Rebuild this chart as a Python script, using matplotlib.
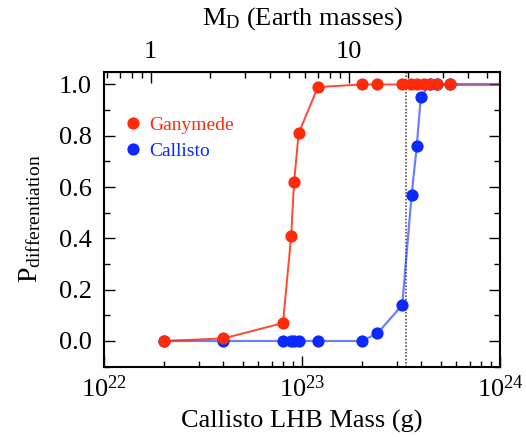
import matplotlib
matplotlib.use("Agg")
import matplotlib.pyplot as plt
from matplotlib.lines import Line2D
from matplotlib.ticker import LogLocator, MultipleLocator, NullFormatter, FixedLocator, FixedFormatter

plt.rcParams['font.family'] = ['Liberation Serif', 'DejaVu Serif']
plt.rcParams['mathtext.fontset'] = 'custom'
plt.rcParams['mathtext.rm'] = 'Liberation Serif'
plt.rcParams['mathtext.it'] = 'Liberation Serif:italic'

# Data (Callisto LHB mass in g, probability of differentiation)
gan_mass = [2.0e22, 4.0e22, 8.0e22, 8.8e22, 9.1e22, 9.6e22, 1.2e23, 2.0e23, 2.4e23,
            3.2e23, 3.55e23, 3.8e23, 4.1e23, 4.4e23, 4.8e23, 5.55e23]
gan_p = [0.0, 0.01, 0.07, 0.41, 0.62, 0.81, 0.99, 1.0, 1.0,
         1.0, 1.0, 1.0, 1.0, 1.0, 1.0, 1.0]
cal_mass = [2.0e22, 4.0e22, 8.0e22, 8.8e22, 9.1e22, 9.6e22, 1.2e23, 2.0e23, 2.4e23,
            3.2e23, 3.57e23, 3.79e23, 3.97e23, 4.4e23, 4.8e23, 5.55e23]
cal_p = [0.0, 0.0, 0.0, 0.0, 0.0, 0.0, 0.0, 0.0, 0.03,
         0.14, 0.57, 0.76, 0.95, 1.0, 1.0, 1.0]
tail_mass = [5.55e23, 1.0e24]
tail_p = [1.0, 1.0]
threshold_mass = 3.35e23
earth_conv = 1.72e22  # g of Callisto LHB mass per Earth mass of disk

red = '#ff2a0a'
blue = '#0a2aff'
FS = 19

fig = plt.figure(figsize=(5.26, 4.37), dpi=100)
ax = fig.add_axes([0.198, 0.161, 0.753, 0.675])

ax.axvline(threshold_mass, color='#555555', linestyle=(0, (1, 1)), linewidth=1.2, zorder=1)

ax.plot(tail_mass, tail_p, color=red, lw=2, alpha=0.6, zorder=2)
ax.plot(tail_mass, tail_p, color=blue, lw=2, alpha=0.35, zorder=3)
ax.plot(cal_mass, cal_p, color=blue, lw=1.6, alpha=0.6, zorder=2)
ax.plot(cal_mass, cal_p, 'o', color=blue, ms=8.8, mec='none', zorder=4)
ax.plot(gan_mass, gan_p, color=red, lw=1.4, alpha=0.85, zorder=5)
ax.plot(gan_mass, gan_p, 'o', color=red, ms=8.8, mec='none', zorder=6)

ax.set_xscale('log')
ax.set_xlim(1e22, 1e24)
ax.set_ylim(-0.1, 1.05)
ax.yaxis.set_minor_locator(MultipleLocator(0.1))
ax.set_yticks([0.0, 0.2, 0.4, 0.6, 0.8, 1.0])
ax.set_yticklabels(['0.0', '0.2', '0.4', '0.6', '0.8', '1.0'])
ax.xaxis.set_major_locator(FixedLocator([1e22, 1e23, 1e24]))
ax.xaxis.set_major_formatter(FixedFormatter([r'$10^{22}$', r'$10^{23}$', r'$10^{24}$']))
ax.xaxis.set_minor_locator(LogLocator(base=10, subs=range(2, 10), numticks=20))
ax.xaxis.set_minor_formatter(NullFormatter())

ax.tick_params(which='both', direction='in', right=True, labelsize=FS)
ax.tick_params(axis='y', pad=9)
ax.tick_params(axis='x', pad=6)
ax.tick_params(which='major', length=8, width=1)
ax.tick_params(which='minor', length=4, width=1)
ax.tick_params(axis='x', which='both', top=False)
for s in ax.spines.values():
    s.set_linewidth(1.5)

ax.set_xlabel('Callisto LHB Mass (g)', fontsize=FS, labelpad=6)
ax.set_ylabel(r'P$_{\mathrm{differentiation}}$', fontsize=FS + 1, labelpad=11)

sec = ax.secondary_xaxis('top', functions=(lambda x: x / earth_conv, lambda m: m * earth_conv))
sec.set_xscale('log')
sec.xaxis.set_major_locator(FixedLocator([1, 10]))
sec.xaxis.set_major_formatter(FixedFormatter(['1', '10']))
sec.xaxis.set_minor_locator(LogLocator(base=10, subs=range(2, 10), numticks=20))
sec.xaxis.set_minor_formatter(NullFormatter())
sec.tick_params(which='both', direction='in', labelsize=FS, pad=6)
sec.tick_params(which='major', length=8, width=1)
sec.tick_params(which='minor', length=4, width=1)
sec.set_xlabel(r'M$_{\mathrm{D}}$ (Earth masses)', fontsize=FS, labelpad=12)

handles = [Line2D([], [], marker='o', ls='none', color=red, ms=8.8, mec='none'),
           Line2D([], [], marker='o', ls='none', color=blue, ms=8.8, mec='none')]
leg = ax.legend(handles, ['Ganymede', 'Callisto'], loc='upper left', bbox_to_anchor=(0.01, 0.895),
                frameon=False, fontsize=14, handletextpad=0.2, handlelength=1.2,
                labelspacing=0.45, borderaxespad=0.3)
for t, c in zip(leg.get_texts(), [red, blue]):
    t.set_color(c)

fig.savefig('out.png', dpi=100)
